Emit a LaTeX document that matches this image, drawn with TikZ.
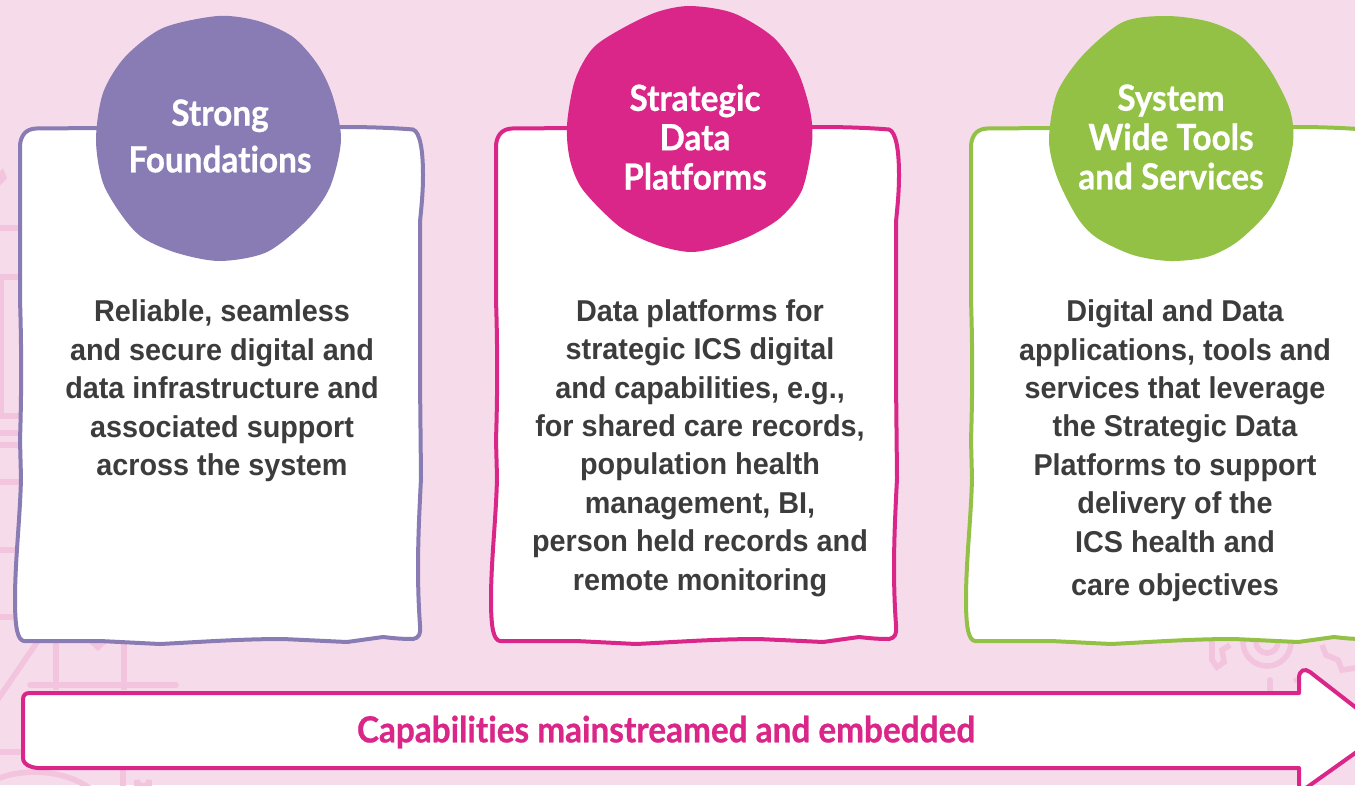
\documentclass[tikz,border=0pt]{standalone}
\usepackage{fontspec}
\setmainfont[FakeStretch=0.955]{Liberation Sans}
\newfontfamily\headfont[Ligatures=CommonOff,FakeStretch=0.925,BoldFeatures={FakeBold=0.7}]{Lato}
\definecolor{bgpink}{HTML}{F6DCEB}
\definecolor{decor}{HTML}{F3C4DE}
\definecolor{cpurple}{HTML}{897CB5}
\definecolor{cmagenta}{HTML}{DA2688}
\definecolor{cgreen}{HTML}{93C146}
\definecolor{bodytext}{HTML}{3C3C3C}
\tikzset{
  deco/.style={draw=decor,line width=4.2pt,fill=none},
  cardline/.style={draw=#1,fill=white,line width=3pt,line join=round},
  blob/.style={fill=#1,draw=none},
  headtext/.style={text=white,align=center,inner sep=0pt,font=\headfont\bfseries\fontsize{27}{30}\selectfont},
  bodytxt/.style={text=bodytext,align=center,inner sep=0pt,font=\bfseries\fontsize{22.6}{28.8}\selectfont},
}
\newcommand{\cardoutline}{(20,145) .. controls (21,135) and (26,129) .. (36,128.5)
  -- (100,128) -- (345,127) .. controls (370,127) and (395,128) .. (413,129.5)
  .. controls (420,132) and (423,150) .. (423,175)
  .. controls (423,195) and (421,210) .. (420,222)
  -- (420,380) -- (421,478) .. controls (419,520) and (416,570) .. (420,625)
  .. controls (421,634) and (419,638) .. (413,639)
  .. controls (400,639) and (392,638) .. (383,637)
  -- (347,642) -- (283,639) .. controls (240,639) and (200,642) .. (160,644)
  -- (100,641) -- (24,641) .. controls (18,640) and (15,630) .. (15,600)
  .. controls (15,560) and (20,520) .. (21,478)
  -- (20,440) .. controls (22,380) and (21,330) .. (20,300) -- cycle}
\begin{document}
\begin{tikzpicture}[x=0.75pt,y=-0.75pt]
\useasboundingbox (0,0) rectangle (1355,785);
\fill[bgpink] (0,0) rectangle (1355,785);
\begin{scope}
\clip (0,0) rectangle (1355,785);
% faint background line-art
\fill[decor] (-6,178) -- (3,168) -- (7,178) -- (-2,188) -- cycle;
\draw[deco] (0,228) -- (25,228);
\draw[deco] (25,277) -- (1.5,277) -- (1.5,416) -- (25,416);
\draw[deco] (0,433) -- (25,433);
\draw[deco] (0,445) -- (25,445);
\draw[deco] (0,482) -- (25,482);
\draw[deco] (0,550) -- (25,550);
\draw[deco] (0,617) -- (25,617);
\draw[deco] (42,635) -- (-4,702);
\draw[deco] (56,635) -- (56,690);
\draw[deco] (124,635) -- (124,690);
\draw[deco,line cap=round] (30,685) -- (176,685);
\fill[decor] (86,640) -- (98,651) -- (110,640) -- cycle;
\draw[deco] (0,752) -- (25,752);
\draw[deco] (-8,782) .. controls (10,770) and (60,765) .. (92,790);
\draw[deco] (123,765) -- (123,790);
\draw[deco] (137,790) -- (137,780) arc[start angle=180,end angle=0,radius=6] -- (149,790);
\draw[deco] (1267,642) circle[radius=24];
\draw[deco] (1267,642) circle[radius=11];
\draw[deco] (1212,640) -- (1212,660) -- (1217,667) -- (1224,662) -- (1222,650) -- (1230,645);
\draw[deco] (1322,645) -- (1326,655) -- (1338,660) -- (1342,670) -- (1355,668);
\draw[deco] (1228,695) arc[start angle=180,end angle=0,radius=11];
\draw[deco,line cap=round] (1270,680) -- (1270,695);
\draw[deco,line cap=round] (1296,680) -- (1320,682);
% cards
\path[cardline=cpurple] \cardoutline;
\begin{scope}[shift={(476,0)}]
  \path[cardline=cmagenta] \cardoutline;
\end{scope}
\begin{scope}[shift={(951,0)}]
  \path[cardline=cgreen] \cardoutline;
\end{scope}
% blobs
\fill[blob=cpurple] plot[smooth cycle,tension=0.5] coordinates {(218,16) (258,21) (293,37) (318,65) (333,97) (341,140) (330,187) (307,220) (267,252) (220,261) (177,253) (143,238) (123,217) (103,183) (96,140) (103,93) (125,57) (163,28)};
\fill[blob=cmagenta] plot[smooth cycle,tension=0.5] coordinates {(690,6) (733,13) (773,37) (797,70) (810,110) (812,143) (802,190) (780,218) (750,236) (720,247) (690,252) (657,245) (620,227) (583,190) (570,160) (567,125) (575,80) (593,48) (623,28) (657,12)};
\fill[blob=cgreen] plot[smooth cycle,tension=0.5] coordinates {(1167,16) (1210,22) (1243,38) (1270,70) (1290,110) (1293,143) (1283,183) (1267,213) (1237,242) (1207,257) (1170,261) (1133,255) (1097,238) (1077,217) (1057,177) (1049,140) (1057,93) (1083,55) (1123,22)};
% arrow
\path[draw=cmagenta,fill=white,line width=3pt,line join=round]
  (23,700) .. controls (23,695) and (25,693) .. (30,693) -- (1299,693) -- (1299,678)
  .. controls (1299,670) and (1305,668) .. (1310,672) -- (1386,731) -- (1299,793) -- (1299,768)
  -- (45,768) .. controls (35,769) and (23,766) .. (23,758) -- cycle;
\end{scope}
% heading texts
\node[headtext] (h1) at (220,136) {Strong\\[5pt]Foundations};
\node[headtext] (h2) at (695,137) {Strategic\\[-0.5pt]Data\\[-0.5pt]Platforms};
\node[headtext] (h3) at (1171,137) {System\\[-0.5pt]Wide Tools\\[-0.5pt]and Services};
% body texts
\node[bodytxt] (b1) at (222,391) {Reliable, seamless\\and secure digital and\\data infrastructure and\\associated support\\across the system};
\node[bodytxt] (b2) at (700,448) {Data platforms for\\strategic ICS digital\\and capabilities, e.g.,\\for shared care records,\\population health\\management, BI,\\person held records and\\remote monitoring};
\node[bodytxt] (b3) at (1175,451) {Digital and Data\\applications, tools and\\services that leverage\\the Strategic Data\\Platforms to support\\delivery of the\\ICS health and\\[4pt]care objectives};
\node[inner sep=0pt,text=cmagenta,font=\headfont\bfseries\fontsize{27}{30}\selectfont] (cap) at (666,732) {Capabilities mainstreamed and embedded};
\end{tikzpicture}
\end{document}
